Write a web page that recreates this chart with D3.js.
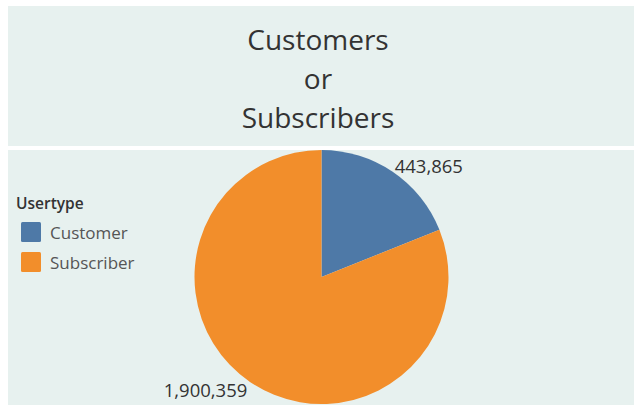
<!DOCTYPE html>
<html><head><meta charset="utf-8">
<script src="https://cdn.jsdelivr.net/npm/d3@7"></script>
<style>html,body{margin:0;padding:0;background:#fff;}svg{display:block;}</style>
</head><body>
<svg id="c" width="634" height="411"></svg>
<script>
const categories = ["Customer", "Subscriber"];
const values = [443865, 1900359];
const colors = ["#4e79a7", "#f28e2b"];
const titleLines = ["Customers", "or", "Subscribers"];
const legendTitle = "Usertype";

const svg = d3.select("#c");
const font = "'Open Sans', sans-serif";
const bg = "#e7f1ef";

svg.append("rect").attr("x", 8).attr("y", 6).attr("width", 626).attr("height", 140).attr("fill", bg);
svg.append("rect").attr("x", 8).attr("y", 150).attr("width", 626).attr("height", 255).attr("fill", bg);

svg.append("g").selectAll("text").data(titleLines).join("text")
  .attr("x", 318).attr("y", (d, i) => 50 + i * 39)
  .attr("text-anchor", "middle").attr("font-family", font).attr("font-size", 28)
  .attr("fill", "#333").text(d => d);

// legend
const lg = svg.append("g");
lg.append("text").attr("x", 16).attr("y", 209).attr("font-family", font).attr("font-size", 15.5)
  .attr("font-weight", 600).attr("fill", "#333").text(legendTitle);
const items = lg.selectAll("g.item").data(categories).join("g").attr("class", "item")
  .attr("transform", (d, i) => `translate(0,${222 + i * 30})`);
items.append("rect").attr("x", 21).attr("y", 0).attr("width", 20).attr("height", 20).attr("rx", 1.5)
  .attr("fill", (d, i) => colors[i]);
items.append("text").attr("x", 50).attr("y", 17).attr("font-family", font).attr("font-size", 17)
  .attr("fill", "#555").text(d => d);

// pie
const cx = 321.5, cy = 277, r = 127;
const color = d3.scaleOrdinal().domain(categories).range(colors);
const pie = d3.pie().sort(null).value(d => d.v);
const data = categories.map((c, i) => ({c, v: values[i]}));
const arcs = pie(data);
const arc = d3.arc().innerRadius(0).outerRadius(r);
const g = svg.append("g").attr("transform", `translate(${cx},${cy})`);
g.selectAll("path").data(arcs).join("path").attr("d", arc).attr("fill", d => color(d.data.c));

const fmt = d3.format(",");
g.selectAll("text").data(arcs).join("text")
  .each(function(d) {
    const a = (d.startAngle + d.endAngle) / 2;
    const x = r * Math.sin(a), y = -r * Math.cos(a);
    const right = x >= 0;
    d3.select(this)
      .attr("x", right ? x + 2 : x - 3)
      .attr("y", y < 0 ? y + 1 : y + 15)
      .attr("text-anchor", right ? "start" : "end");
  })
  .attr("font-family", font).attr("font-size", 18.5).attr("fill", "#333")
  .text(d => fmt(d.data.v));
</script>
</body></html>
